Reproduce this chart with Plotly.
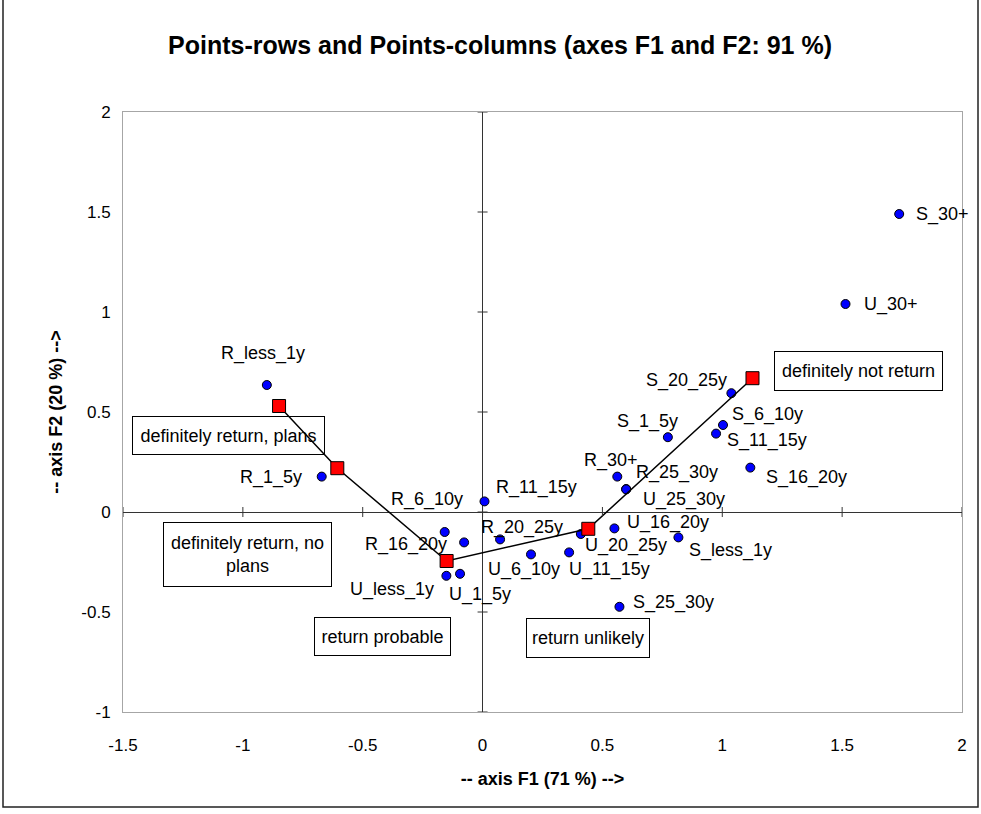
import plotly.graph_objects as go

# ---------------- data ----------------
row_labels = ["R_less_1y", "R_1_5y", "R_6_10y", "R_11_15y", "R_16_20y", "R_20_25y", "R_25_30y", "R_30+",
              "U_less_1y", "U_1_5y", "U_6_10y", "U_11_15y", "U_16_20y", "U_20_25y", "U_25_30y", "U_30+",
              "S_less_1y", "S_1_5y", "S_6_10y", "S_11_15y", "S_16_20y", "S_20_25y", "S_25_30y", "S_30+"]
row_f1 = [-0.900, -0.671, -0.158, 0.008, -0.077, 0.073, 0.599, 0.562,
          -0.151, -0.094, 0.202, 0.361, 0.550, 0.410, 0.599, 1.514,
          0.817, 0.773, 1.003, 0.974, 1.117, 1.038, 0.571, 1.738]
row_f2 = [0.635, 0.177, -0.100, 0.053, -0.152, -0.137, 0.115, 0.177,
          -0.319, -0.309, -0.212, -0.202, -0.082, -0.110, 0.113, 1.040,
          -0.127, 0.374, 0.435, 0.392, 0.222, 0.594, -0.474, 1.490]

col_labels = ["definitely return, plans", "definitely return, no<br>plans", "return probable",
              "return unlikely", "definitely not return"]
col_f1 = [-0.849, -0.606, -0.150, 0.441, 1.126]
col_f2 = [0.530, 0.219, -0.245, -0.084, 0.669]

x_ticks = [-1.5, -1, -0.5, 0, 0.5, 1, 1.5, 2]
y_ticks = [-1, -0.5, 0, 0.5, 1, 1.5, 2]

title_text = "Points-rows and Points-columns (axes F1 and F2: 91 %)"
x_title = "-- axis F1 (71 %) -->"
y_title = "-- axis F2 (20 %) -->"

# ---------------- layout helpers (label placement, pixels) ----------------
row_label_place = {
    "R_less_1y": ("center", -4, -32), "R_1_5y": ("right", -19, 1), "R_6_10y": ("center", -18, -33),
    "R_11_15y": ("left", 11, -14), "R_16_20y": ("right", -16, 2), "R_20_25y": ("left", -20, -12),
    "R_25_30y": ("left", 9, -17), "R_30+": ("center", -6, -16),
    "U_less_1y": ("right", -11, 14), "U_1_5y": ("left", -12, 21), "U_6_10y": ("center", -7, 15),
    "U_11_15y": ("left", -1, 17), "U_16_20y": ("left", 12, -6), "U_20_25y": ("left", 3, 11),
    "U_25_30y": ("left", 16, 10), "U_30+": ("left", 17, 0),
    "S_less_1y": ("left", 10, 13), "S_1_5y": ("center", -20, -16), "S_6_10y": ("left", 8, -11),
    "S_11_15y": ("left", 10, 7), "S_16_20y": ("left", 15, 10), "S_20_25y": ("right", -3, -13),
    "S_25_30y": ("left", 13, -4), "S_30+": ("left", 16, 0),
}
# (dx, dy, box width, box height)
col_label_place = [(-51, 29.5, 193, 39), (-90, 86, 169, 65), (-64, 75, 137, 39),
                   (0, 109, 124, 40), (106, -7, 169, 40)]

FONT = "Liberation Sans, Arial, sans-serif"

fig = go.Figure()

fig.add_trace(go.Scatter(
    x=row_f1, y=row_f2, mode="markers",
    marker=dict(symbol="circle", size=9, color="#0000ff", line=dict(color="black", width=1)),
    hoverinfo="skip", showlegend=False, cliponaxis=False))

fig.add_trace(go.Scatter(
    x=col_f1, y=col_f2, mode="lines+markers",
    line=dict(color="black", width=1.5),
    marker=dict(symbol="square", size=13, color="#ff0000", line=dict(color="black", width=1)),
    hoverinfo="skip", showlegend=False, cliponaxis=False))

annotations = []
for name, fx, fy in zip(row_labels, row_f1, row_f2):
    anchor, dx, dy = row_label_place[name]
    annotations.append(dict(
        x=fx, y=fy, xref="x", yref="y", text=name, showarrow=False,
        xanchor=anchor, yanchor="middle", xshift=dx, yshift=-dy,
        font=dict(family=FONT, size=18, color="black"), borderpad=0))

for name, fx, fy, (dx, dy, bw, bh) in zip(col_labels, col_f1, col_f2, col_label_place):
    annotations.append(dict(
        x=fx, y=fy, xref="x", yref="y", text=name, showarrow=False,
        xanchor="center", yanchor="middle", xshift=dx, yshift=-dy,
        width=bw - 2, height=bh - 2, align="center", valign="middle",
        bordercolor="black", borderwidth=1, borderpad=0,
        font=dict(family=FONT, size=18, color="black")))

shapes = []
# cross ticks on the zero axes
for t in x_ticks:
    shapes.append(dict(type="line", xref="x", yref="y", x0=t, x1=t,
                       ysizemode="pixel", yanchor=0, y0=-5, y1=5,
                       line=dict(color="#333333", width=1)))
for t in y_ticks:
    shapes.append(dict(type="line", xref="x", yref="y", y0=t, y1=t,
                       xsizemode="pixel", xanchor=0, x0=-5, x1=5,
                       line=dict(color="#333333", width=1)))

# outer chart border
W, H = 981, 814
L, R, T, B = 123, 19, 112, 102
pw, ph = W - L - R, H - T - B
def px_x(p):
    return (p - L) / pw
def px_y(p):
    return (H - B - p) / ph
shapes.append(dict(type="rect", xref="paper", yref="paper",
                   x0=px_x(3), x1=px_x(978), y0=px_y(807), y1=px_y(-3),
                   line=dict(color="#222222", width=1.5), layer="below"))

fig.update_layout(
    width=W, height=H, autosize=False,
    margin=dict(l=L, r=R, t=T, b=B, pad=0),
    paper_bgcolor="white", plot_bgcolor="white",
    showlegend=False,
    title=dict(text="<b>" + title_text + "</b>", x=500 / W, xanchor="center",
               y=1 - 45 / H, yanchor="middle", xref="container", yref="container",
               font=dict(family=FONT, size=25, color="black")),
    xaxis=dict(range=[-1.5, 2], tickvals=x_ticks, ticktext=[str(v) for v in x_ticks],
               showgrid=False, zeroline=True, zerolinecolor="#333333", zerolinewidth=1,
               showline=True, linecolor="#a6a6a6", linewidth=1, mirror=True,
               ticks="", ticklabelstandoff=18,
               tickfont=dict(family=FONT, size=17, color="black"),
               title=dict(text="<b>" + x_title + "</b>", standoff=17,
                          font=dict(family=FONT, size=18, color="black"))),
    yaxis=dict(range=[-1, 2], tickvals=y_ticks, ticktext=[str(v) for v in y_ticks],
               showgrid=False, zeroline=True, zerolinecolor="#333333", zerolinewidth=1,
               showline=True, linecolor="#a6a6a6", linewidth=1, mirror=True,
               ticks="", ticklabelstandoff=8,
               tickfont=dict(family=FONT, size=17, color="black"),
               title=dict(text="<b>" + y_title + "</b>", standoff=14,
                          font=dict(family=FONT, size=18, color="black"))),
    annotations=annotations,
    shapes=shapes,
)

fig.write_html("out.html", config={"displayModeBar": False},
               post_script="document.body.style.margin='0px';")
